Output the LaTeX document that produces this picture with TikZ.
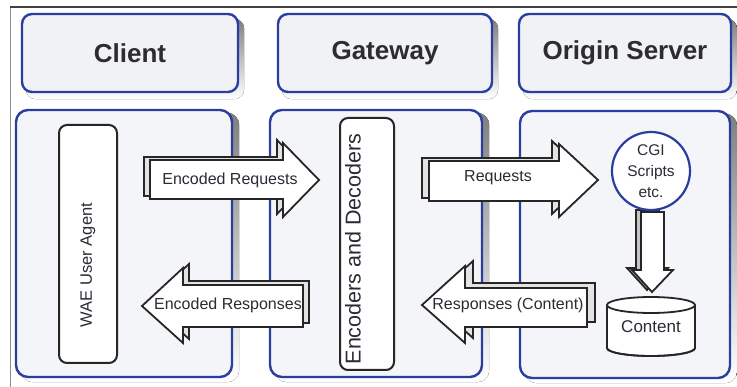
\documentclass[tikz,border=0pt]{standalone}
\usepackage{fontspec}
\setmainfont{Liberation Sans}

\definecolor{frameblue}{RGB}{42,62,160}
\definecolor{boxfill}{RGB}{240,242,246}
\definecolor{panelfill}{RGB}{244,245,248}
\definecolor{shade}{RGB}{196,210,222}
\definecolor{inktext}{RGB}{40,44,52}
\definecolor{headtext}{RGB}{45,45,48}

\pgfdeclarelayer{paper}
\pgfdeclarelayer{shadowlayer}
\pgfsetlayers{paper,shadowlayer,main}

% block arrow: [style] tail x, body y1, body y2, head base x, head y1, head y2, tip x, tip y
\newcommand\blockarrow[9][arrowface]{%
  \draw[#1] (#2,#3) -- (#5,#3) -- (#5,#6) -- (#8,#9) -- (#5,#7) -- (#5,#4) -- (#2,#4) -- cycle;}

\begin{document}
\begin{tikzpicture}[x=1pt,y=-1pt,
  header/.style={draw=frameblue, line width=2.4pt, fill=boxfill, rounded corners=10pt,
    text=headtext, font=\fontsize{26}{30}\selectfont\bfseries, minimum height=78},
  panel/.style={draw=frameblue, line width=2.4pt, fill=panelfill, rounded corners=12pt,
    minimum height=267},
  innerbox/.style={draw=black!85, line width=2pt, fill=white, rounded corners=8pt},
  arrowface/.style={draw=black!85, line width=1.8pt, fill=white, line join=miter},
  arrowback/.style={draw=black!85, line width=1.8pt, fill=gray!22, line join=miter},
  lbl/.style={text=inktext, font=\fontsize{16}{19}\selectfont, inner sep=0pt}]
\useasboundingbox (0,0) rectangle (737,387);
\begin{pgfonlayer}{paper}
  \fill[white] (0,0) rectangle (737,387);
\end{pgfonlayer}

% outer frame
\draw[black!45, line width=1pt] (10,387) -- (10,7);
\draw[black!75, line width=1.6pt] (10,7) -- (737,7);

% column headers
\node[header, minimum width=216] (client) at (130,53) {Client};
\node[header, minimum width=214] (gateway) at (385,53) {Gateway};
\node[header, minimum width=212] (origin) at (625,53) {Origin Server};

% column panels
\node[panel, minimum width=216] (clientpanel) at (124,243.5) {};
\node[panel, minimum width=212] (gatewaypanel) at (376,243.5) {};
\node[panel, minimum width=210] (originpanel) at (625,244.5) {};

% soft offset shadows behind headers and panels
\begin{pgfonlayer}{shadowlayer}
  \foreach \n in {client,gateway,origin}
    \fill[shade, rounded corners=10pt] ([shift={(5,6)}]\n.south west) rectangle ([shift={(5,6)}]\n.north east);
  \foreach \n in {clientpanel,gatewaypanel,originpanel}
    \fill[shade, rounded corners=12pt] ([shift={(6,4)}]\n.south west) rectangle ([shift={(6,4)}]\n.north east);
\end{pgfonlayer}

% inner components
\node[innerbox, minimum width=58, minimum height=238] (agent) at (88,244) {};
\node[lbl, rotate=90, font=\fontsize{16.5}{20}\selectfont] (agenttext) at (88,265) {WAE User Agent};
\node[innerbox, minimum width=54, minimum height=252] (codec) at (367,244) {};
\node[lbl, rotate=90, font=\fontsize{21.5}{26}\selectfont] (codectext) at (353,249) {Encoders and Decoders};

% block arrows between columns
\begin{scope}[shift={(-6,-3)}]
  \blockarrow[arrowback]{150}{160}{199}{283}{143}{217}{319}{180}
\end{scope}
\blockarrow{150}{160}{199}{283}{143}{217}{319}{180}
\node[lbl] (encreq) at (230,180) {Encoded Requests};

\begin{scope}[shift={(6,-4)}]
  \blockarrow[arrowback]{303}{285}{327}{183}{268}{343}{142}{306}
\end{scope}
\blockarrow{303}{285}{327}{183}{268}{343}{142}{306}
\node[lbl] (encresp) at (228,305) {Encoded Responses};

\begin{scope}[shift={(-7,-3)}]
  \blockarrow[arrowback]{429}{161}{201}{559}{144}{217}{598}{180}
\end{scope}
\blockarrow{429}{161}{201}{559}{144}{217}{598}{180}
\node[lbl] (req) at (498,178) {Requests};

\begin{scope}[shift={(8,-5)}]
  \blockarrow[arrowback]{587}{288}{327}{465}{266}{343}{422}{305}
\end{scope}
\blockarrow{587}{288}{327}{465}{266}{343}{422}{305}
\node[lbl] (resp) at (508,305) {Responses (Content)};

% script output flowing into the content store
\begin{scope}[shift={(-5,-2)}]
  \draw[arrowback, fill=gray!45] (641,212) -- (641,270) -- (632,270) -- (652,292) -- (673,270) -- (664,270) -- (664,212) -- cycle;
\end{scope}
\draw[arrowface] (641,212) -- (641,270) -- (632,270) -- (652,292) -- (673,270) -- (664,270) -- (664,212) -- cycle;

\node[circle, draw=frameblue, line width=2.2pt, fill=white, minimum size=78, inner sep=0pt,
  align=center, text=inktext, font=\fontsize{15.5}{21}\selectfont] (cgi) at (651,171) {CGI\\Scripts\\etc.};

% content store (cylinder)
\draw[black!85, line width=1.8pt, fill=white] (651,348) ellipse [x radius=44, y radius=8];
\fill[white] (607,305) rectangle (695,348);
\draw[black!85, line width=1.8pt] (607,305) -- (607,348) arc[start angle=180, end angle=0, x radius=44, y radius=8] -- (695,305);
\draw[black!85, line width=1.8pt, fill=white] (651,305) ellipse [x radius=44, y radius=8];
\node[lbl, font=\fontsize{17}{20}\selectfont] (content) at (651,327) {Content};
\end{tikzpicture}
\end{document}
